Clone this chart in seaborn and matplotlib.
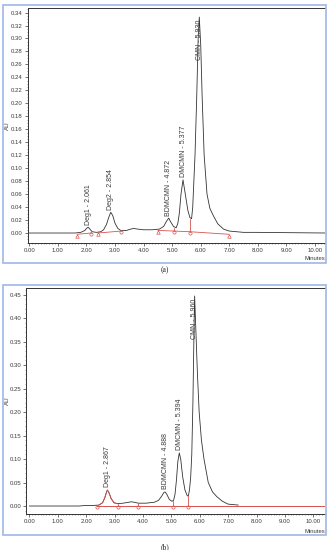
import matplotlib
matplotlib.use("Agg")
import matplotlib.pyplot as plt
import seaborn as sns
import pandas as pd
from matplotlib.patches import Rectangle
from matplotlib.ticker import MultipleLocator

# ---- chromatogram (a) ----
time_a = [0.00, 1.00, 1.60, 1.80, 1.95, 2.00, 2.06, 2.12, 2.20, 2.35, 2.50, 2.60, 2.70, 2.78,
          2.85, 2.92, 3.00, 3.10, 3.20, 3.40, 3.55, 3.65, 3.80, 4.00, 4.30, 4.55, 4.70, 4.80,
          4.88, 4.95, 5.05, 5.14, 5.20, 5.25, 5.31, 5.38, 5.46, 5.55, 5.62, 5.68, 5.72, 5.76,
          5.80, 5.86, 5.91, 5.95, 6.00, 6.05, 6.12, 6.22, 6.32, 6.45, 6.60, 6.80, 7.00, 7.50,
          7.95, 10.40]
au_a = [0.000, 0.000, 0.000, 0.001, 0.004, 0.007, 0.009, 0.006, 0.002, 0.001, 0.002, 0.005,
        0.013, 0.024, 0.032, 0.027, 0.015, 0.007, 0.004, 0.004, 0.006, 0.007, 0.006, 0.005,
        0.005, 0.006, 0.010, 0.018, 0.023, 0.017, 0.010, 0.008, 0.015, 0.030, 0.060, 0.082,
        0.060, 0.035, 0.024, 0.022, 0.040, 0.080, 0.120, 0.210, 0.300, 0.333, 0.290, 0.210,
        0.120, 0.060, 0.038, 0.026, 0.014, 0.006, 0.003, 0.001, 0.001, 0.000]
base_a_t = [[1.67, 2.16], [2.40, 3.21], [4.50, 5.07, 5.62, 7.00]]
base_a_v = [[-0.002, 0.000], [0.000, 0.003], [0.004, 0.003, 0.002, -0.002]]
tri_a = [1.67, 2.40, 4.50, 7.00]
tri_a_v = [-0.002, 0.000, 0.004, -0.002]
circ_a = [2.16, 3.21, 5.07, 5.62]
circ_a_v = [0.000, 0.003, 0.003, 0.002]
drop_a_top = [0.002, 0.004, 0.008, 0.022]
peaks_a = ["Deg1 - 2.061", "Deg2 - 2.854", "BDMCMN - 4.872", "DMCMN - 5.377", "CMN - 5.930"]
peak_a_t = [2.06, 2.85, 4.88, 5.38, 5.95]
peak_a_h = [0.009, 0.032, 0.023, 0.082, 0.333]

# ---- chromatogram (b) ----
time_b = [0.00, 1.75, 1.95, 2.20, 2.45, 2.58, 2.66, 2.72, 2.75, 2.80, 2.88, 2.98, 3.10, 3.30,
          3.50, 3.58, 3.70, 3.84, 4.10, 4.40, 4.55, 4.66, 4.74, 4.78, 4.84, 4.93, 5.02, 5.08,
          5.13, 5.18, 5.23, 5.28, 5.33, 5.40, 5.48, 5.56, 5.60, 5.64, 5.68, 5.72, 5.76, 5.79,
          5.82, 5.86, 5.92, 5.98, 6.06, 6.15, 6.30, 6.45, 6.60, 6.80, 7.00, 7.36]
au_b = [0.000, 0.000, 0.001, 0.001, 0.002, 0.007, 0.018, 0.030, 0.034, 0.029, 0.016, 0.007,
        0.005, 0.006, 0.008, 0.009, 0.008, 0.006, 0.006, 0.008, 0.012, 0.021, 0.029, 0.030,
        0.025, 0.014, 0.010, 0.012, 0.025, 0.055, 0.095, 0.113, 0.100, 0.062, 0.034, 0.022,
        0.021, 0.035, 0.060, 0.110, 0.220, 0.340, 0.447, 0.380, 0.280, 0.200, 0.140, 0.100,
        0.050, 0.030, 0.020, 0.010, 0.004, 0.002]
deg1_b_range = (2.37, 3.13)
base_b_t = [2.37, 10.45]
base_b_v = [0.000, 0.000]
circ_b = [2.37, 3.13, 3.84, 5.05, 5.60]
drop_b_top = [0.002, 0.005, 0.006, 0.010, 0.021]
peaks_b = ["Deg1 - 2.867", "BDMCMN - 4.888", "DMCMN - 5.394", "CMN - 5.960"]
peak_b_t = [2.75, 4.78, 5.28, 5.82]
peak_b_h = [0.034, 0.030, 0.113, 0.447]

sns.set_style("ticks")
plt.rcParams["font.family"] = ["Liberation Sans", "DejaVu Sans"]

W, H = 331, 550
fig = plt.figure(figsize=(W / 100, H / 100), dpi=100)

trace_col = "#333333"
red = "#d9534f"
frame_col = "#9fb8e6"
txt_col = "#3a3a3a"


def px(x0, y0, x1, y1):
    # pixel box -> figure fraction [left, bottom, width, height]
    return [x0 / W, 1 - y1 / H, (x1 - x0) / W, (y1 - y0) / H]


def frame(y0, y1):
    fig.patches.append(Rectangle((3.3 / W, 1 - y1 / H), (325.5 - 3.3) / W, (y1 - y0) / H,
                                 transform=fig.transFigure, fill=False,
                                 edgecolor=frame_col, lw=1.2))


def style_axes(ax, xlim, ylim, ymaj, ymin, au_x, min_y):
    ax.set_xlim(*xlim)
    ax.set_ylim(*ylim)
    ax.xaxis.set_major_locator(MultipleLocator(1.0))
    ax.xaxis.set_minor_locator(MultipleLocator(0.1))
    ax.yaxis.set_major_locator(MultipleLocator(ymaj))
    ax.yaxis.set_minor_locator(MultipleLocator(ymin))
    ax.xaxis.set_major_formatter(lambda v, p: f"{v:.2f}")
    ax.yaxis.set_major_formatter(lambda v, p: f"{v:.2f}")
    ax.tick_params(which="major", labelsize=4.3, length=2, width=0.5, pad=1.5, colors=txt_col)
    ax.tick_params(which="minor", length=1, width=0.4, colors="#555555")
    for s in ["left", "bottom", "top"]:
        ax.spines[s].set_linewidth(0.7)
        ax.spines[s].set_color("#333333")
    ax.spines["right"].set_visible(False)
    ax.set_xlabel("")
    ax.set_ylabel("AU", fontsize=4.5, color=txt_col)
    ax.yaxis.set_label_coords(au_x, 0.5)
    ax.text(1.0, min_y, "Minutes", transform=ax.transAxes, ha="right", va="top",
            fontsize=4.2, color=txt_col)


def peak_labels(ax, names, ts, hs, off):
    for i, (n, t, h) in enumerate(zip(names, ts, hs)):
        # the main peak reaches the top, so its label sits on the peak itself
        if i == len(names) - 1:
            ax.text(t, h - off, n, rotation=90, ha="center", va="top", fontsize=5,
                    color=txt_col)
        else:
            ax.text(t, h + off, n, rotation=90, ha="center", va="bottom", fontsize=5,
                    color=txt_col)


# ---------- panel (a) ----------
frame(4.7, 263)
ax1 = fig.add_axes(px(27.7, 8, 325, 243))
df_a = pd.DataFrame({"t": time_a, "au": au_a})
sns.lineplot(data=df_a, x="t", y="au", ax=ax1, color=trace_col, lw=0.6, sort=False, estimator=None)
for bt, bv in zip(base_a_t, base_a_v):
    ax1.plot(bt, bv, color=red, lw=0.6)
ax1.plot(tri_a, [v - 0.002 for v in tri_a_v], ls="none", marker="^", ms=2.5, mfc="none",
         mec=red, mew=0.5)
ax1.plot(circ_a, [v - 0.002 for v in circ_a_v], ls="none", marker="o", ms=2.3, mfc="none",
         mec=red, mew=0.5)
for t, v0, v1 in zip(circ_a, circ_a_v, drop_a_top):
    ax1.plot([t, t], [v0, v1], color=red, lw=0.6)
style_axes(ax1, (-0.056, 10.35), (-0.0154, 0.347), 0.02, 0.005, -0.060, -0.055)
peak_labels(ax1, peaks_a, peak_a_t, peak_a_h, 0.004)
fig.text(165 / W, 1 - 270 / H, "(a)", ha="center", va="center", fontsize=5.5,
         family="Liberation Serif")

# ---------- panel (b) ----------
frame(285, 535)
ax2 = fig.add_axes(px(26, 288, 325, 514))
df_b = pd.DataFrame({"t": time_b, "au": au_b})
sns.lineplot(data=df_b, x="t", y="au", ax=ax2, color=trace_col, lw=0.6, sort=False, estimator=None)
seg = df_b[(df_b.t >= deg1_b_range[0]) & (df_b.t <= deg1_b_range[1])]
ax2.plot(seg.t, seg.au, color=red, lw=0.6)
ax2.plot(base_b_t, base_b_v, color=red, lw=0.7)
ax2.plot(circ_b, [-0.003] * len(circ_b), ls="none", marker="o", ms=2.3, mfc="none",
         mec=red, mew=0.5)
for t, v1 in zip(circ_b, drop_b_top):
    ax2.plot([t, t], [0, v1], color=red, lw=0.6)
style_axes(ax2, (-0.116, 10.41), (-0.017, 0.464), 0.05, 0.01, -0.054, -0.065)
peak_labels(ax2, peaks_b, peak_b_t, peak_b_h, 0.006)
fig.text(165 / W, 1 - 547 / H, "(b)", ha="center", va="center", fontsize=5.5,
         family="Liberation Serif")

fig.savefig("out.png", dpi=100)
